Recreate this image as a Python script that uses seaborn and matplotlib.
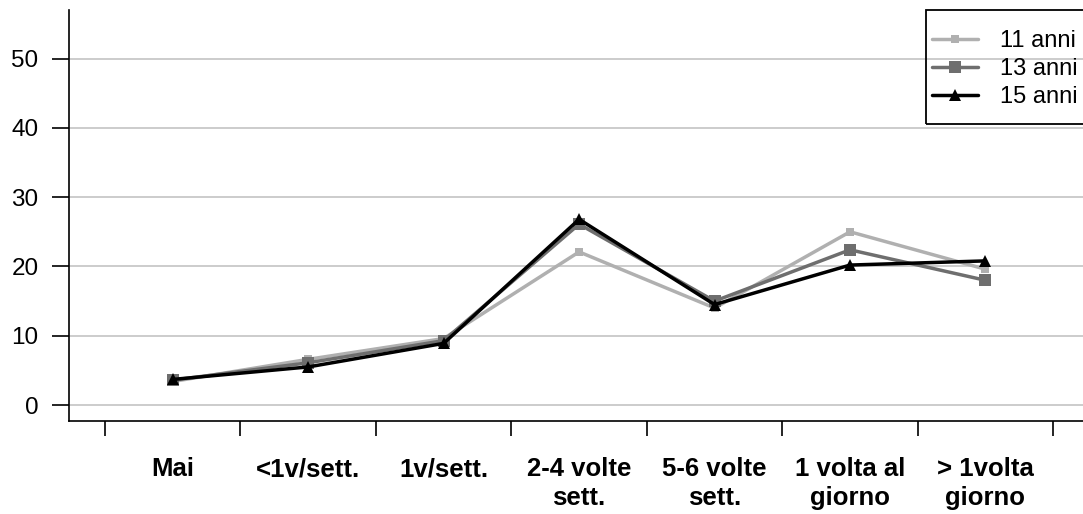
import matplotlib
matplotlib.use("Agg")
import matplotlib.pyplot as plt
from matplotlib.patches import Rectangle
import seaborn as sns

categorie = ["Mai", "<1v/sett.", "1v/sett.", "2-4 volte\nsett.", "5-6 volte\nsett.",
             "1 volta al\ngiorno", "> 1volta\ngiorno"]
anni_11 = [3.4, 6.6, 9.6, 22.1, 14.0, 25.0, 19.6]
anni_13 = [3.6, 6.1, 9.3, 26.1, 15.0, 22.4, 18.0]
anni_15 = [3.7, 5.5, 8.9, 26.8, 14.5, 20.2, 20.8]
serie = ["11 anni", "13 anni", "15 anni"]
valori = [anni_11, anni_13, anni_15]
colori = ["#b0b0b0", "#6e6e6e", "#000000"]
marker = ["s", "s", "^"]
dim_marker = [6, 8, 9]

sns.set_style("white")
plt.rcParams["font.family"] = ["Liberation Sans", "DejaVu Sans"]
plt.rcParams["text.color"] = "black"
plt.rcParams["xtick.color"] = "black"
plt.rcParams["ytick.color"] = "black"

pos = list(range(len(categorie)))

fig = plt.figure(figsize=(10.83, 5.14), dpi=100)
ax = fig.add_axes([69 / 1083, 1 - 421 / 514, 1 - 69 / 1083, 411 / 514])

for y in range(0, 60, 10):
    ax.axhline(y, color="#c8c8c8", lw=1.3, zorder=0)

for nome, v, c, m, ms in zip(serie, valori, colori, marker, dim_marker):
    sns.lineplot(x=pos, y=v, color=c, marker=m, markersize=ms, markeredgewidth=0,
                 linewidth=2.5, label=nome, ax=ax)

ax.set_xlim(-0.766, 6.72)
ax.set_ylim(-2.3, 57.0)
ax.set_yticks(range(0, 60, 10))
ax.set_xticks(pos)
ax.set_xticklabels(categorie, fontsize=18.5, fontweight="bold", linespacing=1.25)
ax.set_xticks([i - 0.5 for i in range(len(categorie) + 1)], minor=True)
ax.tick_params(bottom=True, left=True, which="both")
ax.tick_params(axis="x", which="major", length=0, pad=26, labelcolor="black")
ax.tick_params(axis="x", which="minor", length=11, width=1.2, color="black", direction="out")
ax.tick_params(axis="y", length=12, width=1.2, color="black", pad=10, labelsize=17.5,
               direction="out", labelcolor="black")
for s in ["top", "right"]:
    ax.spines[s].set_visible(False)
for s in ["left", "bottom"]:
    ax.spines[s].set_color("black")
    ax.spines[s].set_linewidth(1.2)

# legenda: testo senza cornice + riquadro disegnato a parte
leg = ax.legend(loc="upper left", bbox_to_anchor=(932 / 1083, 1 - 30 / 514),
                bbox_transform=fig.transFigure, fontsize=17, frameon=False,
                handlelength=1.95, handletextpad=0.93, labelspacing=0.26,
                borderpad=0, borderaxespad=0)
for t in leg.get_texts():
    t.set_color("black")
fig.patches.append(Rectangle((926 / 1083, 1 - 124 / 514), 200 / 1083, 114 / 514,
                             transform=fig.transFigure, fill=False, edgecolor="black",
                             linewidth=1.3))

fig.savefig("out.png", dpi=100)
